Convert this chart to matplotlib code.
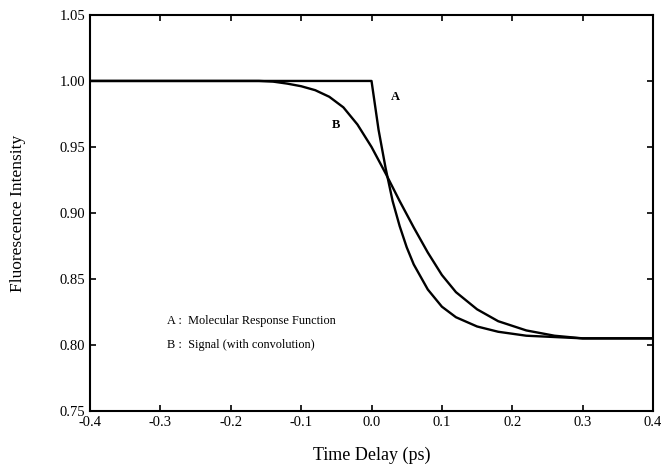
import matplotlib
matplotlib.use("Agg")
import matplotlib.pyplot as plt

plt.rcParams['font.family'] = ['Liberation Serif', 'DejaVu Serif']

# curve A : molecular response function (step at t=0, then decay)
t_a = [-0.4, -0.2, 0.0, 0.01, 0.02, 0.03, 0.04, 0.05, 0.06, 0.08, 0.10, 0.12,
       0.15, 0.18, 0.22, 0.26, 0.30, 0.40]
val_a = [1.0, 1.0, 1.0, 0.963, 0.934, 0.909, 0.890, 0.874, 0.861, 0.842, 0.829,
         0.821, 0.814, 0.810, 0.807, 0.806, 0.805, 0.805]

# curve B : signal (with convolution)
t_b = [-0.4, -0.2, -0.16, -0.14, -0.12, -0.10, -0.08, -0.06, -0.04, -0.02, 0.0,
       0.02, 0.04, 0.06, 0.08, 0.10, 0.12, 0.15, 0.18, 0.22, 0.26, 0.30, 0.40]
val_b = [1.0, 1.0, 1.0, 0.9995, 0.998, 0.996, 0.993, 0.988, 0.980, 0.967, 0.950,
         0.930, 0.909, 0.889, 0.870, 0.853, 0.840, 0.827, 0.818, 0.811, 0.807,
         0.805, 0.805]

xticks = [-0.4, -0.3, -0.2, -0.1, 0.0, 0.1, 0.2, 0.3, 0.4]
yticks = [0.75, 0.80, 0.85, 0.90, 0.95, 1.00, 1.05]

fig = plt.figure(figsize=(6.67, 4.67), dpi=100)
ax = fig.add_axes([0.135, 0.12, 0.844, 0.848])

ax.plot(t_a, val_a, color='black', lw=1.7)
ax.plot(t_b, val_b, color='black', lw=1.7)

ax.set_xlim(-0.4, 0.4)
ax.set_ylim(0.75, 1.05)
ax.set_xticks(xticks)
ax.set_xticklabels(['%.1f' % v for v in xticks])
ax.set_yticks(yticks)
ax.set_yticklabels(['%.2f' % v for v in yticks])
ax.tick_params(direction='in', top=True, right=True, length=4, width=1.2,
               labelsize=10.5)
for s in ax.spines.values():
    s.set_linewidth(1.5)

ax.set_xlabel('Time Delay (ps)', fontsize=13, labelpad=13)
ax.set_ylabel('Fluorescence Intensity', fontsize=12.5, labelpad=24)

ax.text(0.034, 0.988, 'A', fontsize=9, fontweight='bold', ha='center', va='center')
ax.text(-0.05, 0.967, 'B', fontsize=9, fontweight='bold', ha='center', va='center')

ax.text(-0.29, 0.818, 'A :  Molecular Response Function', fontsize=8.8, va='center')
ax.text(-0.29, 0.800, 'B :  Signal (with convolution)', fontsize=8.8, va='center')

fig.savefig('out.png', dpi=100)
